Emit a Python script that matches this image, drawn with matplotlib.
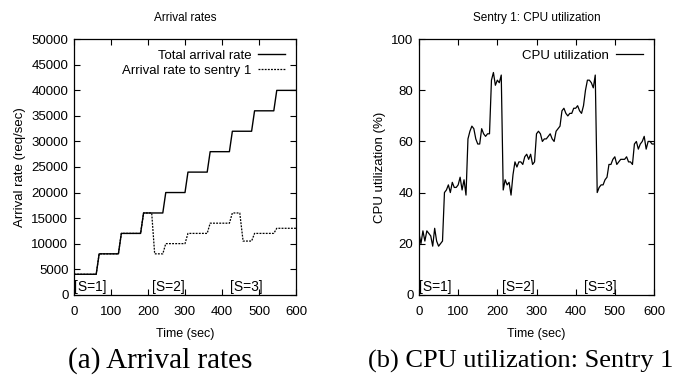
import numpy as np
import matplotlib
matplotlib.use("Agg")
import matplotlib.pyplot as plt
import matplotlib.transforms as mtransforms

plt.rcParams['font.family'] = ['Liberation Sans', 'DejaVu Sans']

# arrival rates (req/sec), step breakpoints
total_t = [0, 60, 68, 120, 128, 180, 188, 240, 248, 300, 308, 360, 368, 420, 428, 480, 488, 540, 548, 600]
total_v = [4000, 4000, 8000, 8000, 12000, 12000, 16000, 16000, 20000, 20000, 24000, 24000,
           28000, 28000, 32000, 32000, 36000, 36000, 40000, 40000]
sentry_t = [0, 60, 68, 120, 128, 180, 188, 210, 218, 240, 248, 300, 308, 360, 368, 420, 428,
            448, 457, 480, 488, 540, 548, 600]
sentry_v = [4000, 4000, 8000, 8000, 12000, 12000, 16000, 16000, 8000, 8000, 10000, 10000,
            12000, 12000, 14000, 14000, 16000, 16000, 10500, 10500, 12000, 12000, 13000, 13000]

# CPU utilization of sentry 1, sampled every 5 s
cpu_t = np.arange(0, 605, 5)
cpu_v = [24, 20, 25, 21, 25, 24, 23, 19, 26, 21, 19, 20,
         21, 40, 41, 43, 40, 44, 42, 42, 43, 46, 41, 45,
         39, 61, 64, 66, 65, 61, 59, 59, 65, 63, 62, 63,
         63, 84, 87, 82, 84, 83, 86, 41, 45, 43, 44, 39,
         47, 52, 50, 52, 52, 51, 54, 55, 53, 55, 51, 52,
         63, 64, 63, 60, 61, 61, 62, 63, 61, 60, 64, 65,
         66, 72, 73, 71, 70, 71, 71, 73, 73, 74, 72, 71,
         74, 80, 84, 84, 83, 81, 86, 40, 42, 43, 43, 45,
         46, 51, 51, 53, 54, 51, 52, 53, 53, 53, 54, 52,
         52, 51, 59, 60, 57, 59, 60, 62, 57, 60, 60, 59,
         59]

phase_t = [0, 210, 420]
phase_labels = ["[S=1]", "[S=2]", "[S=3]"]

fig = plt.figure(figsize=(6.76, 3.84), dpi=100)
ax1 = fig.add_axes([74/676, 1 - 294.7/384, 222/676, 255.4/384])
ax2 = fig.add_axes([419/676, 1 - 294.7/384, 235/676, 255.4/384])


def style(ax):
    ax.tick_params(direction='in', top=True, right=True, length=4, width=0.8,
                   labelsize=9.5)
    ax.tick_params(axis='x', pad=8)
    ax.tick_params(axis='y', pad=4)
    for s in ax.spines.values():
        s.set_linewidth(0.9)
    ax.set_xlim(0, 600)
    ax.set_xticks(range(0, 601, 100))
    ax.set_xlabel("Time (sec)", fontsize=9, labelpad=7)
    trans = mtransforms.blended_transform_factory(ax.transData, ax.transAxes)
    for t, lab in zip(phase_t, phase_labels):
        ax.text(t + 1, 0.03, lab, transform=trans, ha='left', va='center', fontsize=10)


ax1.plot(total_t, total_v, color='black', lw=1.0, label="Total arrival rate")
ax1.plot(sentry_t, sentry_v, color='black', lw=0.9, ls=(0, (1.5, 1)), label="Arrival rate to sentry 1")
ax1.set_ylim(0, 50000)
ax1.set_yticks(range(0, 50001, 5000))
style(ax1)
ax1.set_ylabel("Arrival rate (req/sec)", fontsize=9.5, labelpad=4)
ax1.set_title("Arrival rates", fontsize=8.5, pad=13)
ax1.legend(loc='upper right', frameon=False, markerfirst=False, fontsize=9.5,
           handlelength=2.1, handletextpad=0.5, borderaxespad=0.5, labelspacing=0.2,
           borderpad=0.3)

ax2.plot(cpu_t, cpu_v, color='black', lw=0.9, label="CPU utilization")
ax2.set_ylim(0, 100)
ax2.set_yticks(range(0, 101, 20))
style(ax2)
ax2.set_ylabel("CPU utilization (%)", fontsize=9.5, labelpad=4)
ax2.set_title("Sentry 1: CPU utilization", fontsize=8.5, pad=13)
ax2.legend(loc='upper right', frameon=False, markerfirst=False, fontsize=9.5,
           handlelength=2.1, handletextpad=0.5, borderaxespad=0.5, borderpad=0.3)

fig.text(160/676, 1 - 361/384, "(a) Arrival rates", family='Liberation Serif',
         fontsize=21, ha='center', va='center')
fig.text(368/676, 1 - 361/384, "(b) CPU utilization: Sentry 1", family='Liberation Serif',
         fontsize=19, ha='left', va='center')

fig.savefig("out.png", dpi=100)
